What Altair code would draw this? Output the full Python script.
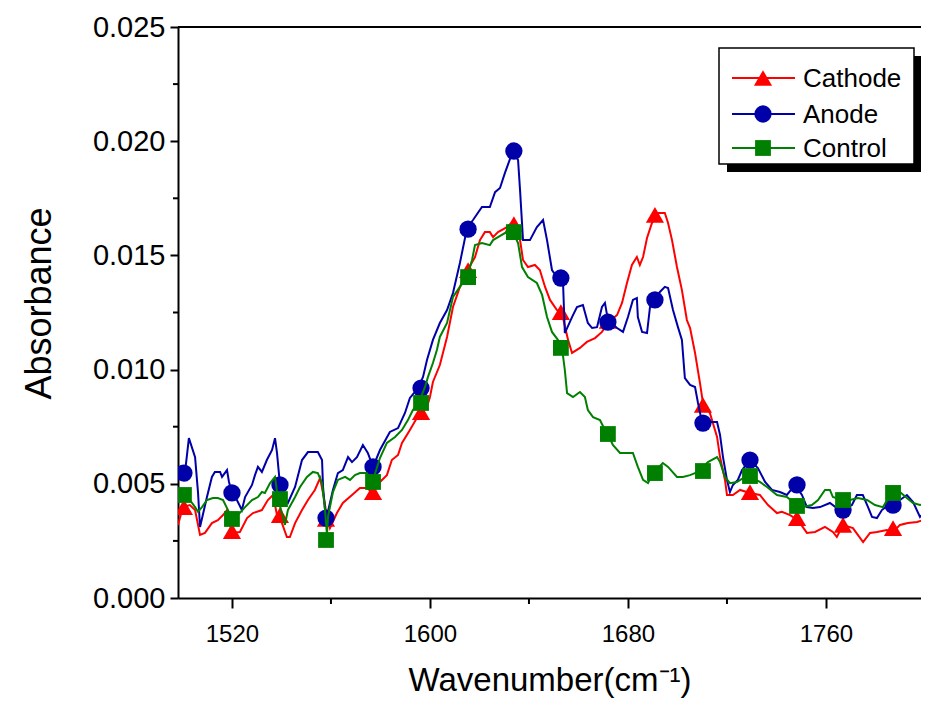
import altair as alt
import pandas as pd

# ---------------- data ----------------
series_names = ["Cathode", "Anode", "Control"]
series_colors = ["#FF0000", "#0000A8", "#008000"]
series_shapes = ["triangle-up", "circle", "square"]
series_sizes = [330, 300, 250]

x_ticks = [1520, 1600, 1680, 1760]
x_minor = [1560, 1640, 1720]
y_ticks = [0.000, 0.005, 0.010, 0.015, 0.020, 0.025]
y_minor = [0.0025, 0.0075, 0.0125, 0.0175, 0.0225]

# Cathode trace
cat_w = [1498.2, 1500.2, 1503.0, 1505.1, 1507.1, 1509.1, 1511.9, 1514.3, 1516.4, 1518.0,
         1520.0, 1523.2, 1526.1, 1528.5, 1532.1, 1534.5, 1536.6, 1538.2, 1540.2, 1542.2,
         1543.4, 1545.5, 1548.3, 1550.7, 1553.5, 1555.6, 1556.8, 1558.4, 1559.6, 1562.4,
         1564.8, 1568.5, 1571.7, 1574.5, 1577.0, 1579.8, 1582.6, 1584.6, 1587.1, 1588.7,
         1591.9, 1594.7, 1598.8, 1600.0, 1601.2, 1604.0, 1606.9, 1609.3, 1612.1, 1615.0,
         1618.2, 1620.2, 1622.2, 1624.2, 1625.5, 1627.5, 1631.1, 1633.9, 1636.4, 1637.6,
         1639.6, 1642.4, 1644.4, 1646.5, 1648.5, 1651.3, 1653.3, 1655.8, 1657.4, 1660.6,
         1663.4, 1666.7, 1669.5, 1671.9, 1675.6, 1677.6, 1679.6, 1681.6, 1683.6, 1684.8,
         1686.1, 1687.7, 1689.7, 1691.7, 1694.9, 1696.2, 1697.8, 1699.8, 1701.8, 1703.8,
         1705.1, 1707.1, 1709.1, 1710.3, 1713.1, 1716.0, 1717.2, 1719.2, 1720.0, 1722.4,
         1725.3, 1729.3, 1733.3, 1736.6, 1740.2, 1742.2, 1745.5, 1748.7, 1752.3, 1755.6,
         1759.6, 1762.8, 1764.4, 1766.9, 1770.9, 1775.0, 1777.8, 1780.6, 1784.6, 1787.1,
         1789.9, 1793.1, 1796.8, 1799.2, 1801.6]
cat_a = [0.00320, 0.00398, 0.00407, 0.00385, 0.00276, 0.00285, 0.00328, 0.00341, 0.00363, 0.00385,
         0.00285, 0.00289, 0.00350, 0.00372, 0.00385, 0.00429, 0.00451, 0.00363, 0.00328, 0.00267,
         0.00267, 0.00328, 0.00385, 0.00429, 0.00473, 0.00525, 0.00460, 0.00355, 0.00306, 0.00372,
         0.00416, 0.00451, 0.00482, 0.00482, 0.00460, 0.00508, 0.00538, 0.00604, 0.00626, 0.00679,
         0.00736, 0.00788, 0.00836, 0.00880, 0.00946, 0.01020, 0.01143, 0.01274, 0.01362, 0.01432,
         0.01493, 0.01567, 0.01602, 0.01602, 0.01580, 0.01602, 0.01624, 0.01651, 0.01567, 0.01480,
         0.01449, 0.01458, 0.01436, 0.01362, 0.01305, 0.01261, 0.01248, 0.01130, 0.01073, 0.01095,
         0.01121, 0.01138, 0.01165, 0.01204, 0.01239, 0.01292, 0.01379, 0.01458, 0.01493, 0.01458,
         0.01493, 0.01576, 0.01642, 0.01686, 0.01686, 0.01642, 0.01567, 0.01449, 0.01348, 0.01217,
         0.01182, 0.01073, 0.00941, 0.00854, 0.00810, 0.00705, 0.00617, 0.00517, 0.00451, 0.00451,
         0.00473, 0.00460, 0.00451, 0.00407, 0.00372, 0.00377, 0.00363, 0.00341, 0.00285, 0.00289,
         0.00311, 0.00289, 0.00267, 0.00320, 0.00306, 0.00245, 0.00285, 0.00289, 0.00298, 0.00289,
         0.00320, 0.00328, 0.00333, 0.00341, 0.00328]

# Anode trace
ano_w = [1498.2, 1501.0, 1502.6, 1505.1, 1506.3, 1507.1, 1509.9, 1511.9, 1513.1, 1515.2,
         1516.0, 1518.0, 1518.8, 1520.0, 1522.0, 1524.0, 1525.3, 1528.1, 1529.3, 1530.5,
         1532.1, 1534.1, 1536.2, 1537.4, 1538.2, 1539.4, 1540.2, 1542.6, 1545.5, 1548.3,
         1550.7, 1554.7, 1556.4, 1556.8, 1558.0, 1560.8, 1562.8, 1564.8, 1566.9, 1568.5,
         1570.5, 1572.9, 1574.9, 1577.0, 1579.8, 1583.8, 1587.1, 1589.9, 1591.9, 1595.2,
         1597.2, 1598.8, 1601.2, 1604.0, 1606.9, 1609.3, 1612.1, 1615.0, 1617.4, 1621.0,
         1624.2, 1626.3, 1628.3, 1630.3, 1633.5, 1635.6, 1636.4, 1637.6, 1640.4, 1643.2,
         1645.7, 1647.3, 1649.3, 1651.3, 1653.7, 1654.5, 1657.4, 1659.4, 1661.8, 1663.8,
         1665.5, 1667.5, 1669.5, 1670.7, 1671.9, 1675.6, 1678.0, 1680.0, 1682.0, 1683.6,
         1684.0, 1685.7, 1687.7, 1688.9, 1690.9, 1692.9, 1694.9, 1696.2, 1698.2, 1700.2,
         1701.8, 1703.0, 1705.1, 1707.1, 1708.3, 1709.9, 1713.1, 1716.0, 1717.2, 1718.4,
         1720.0, 1721.2, 1722.4, 1724.4, 1726.1, 1729.3, 1732.5, 1735.4, 1738.2, 1741.4,
         1744.2, 1747.5, 1750.3, 1752.3, 1754.7, 1757.6, 1761.6, 1764.4, 1766.9, 1770.5,
         1772.5, 1774.9, 1777.0, 1778.6, 1780.6, 1782.6, 1785.1, 1787.1, 1789.9, 1792.7,
         1795.2, 1798.0, 1800.0, 1801.6]
ano_a = [0.00517, 0.00547, 0.00700, 0.00617, 0.00460, 0.00311, 0.00442, 0.00530, 0.00552, 0.00552,
         0.00530, 0.00560, 0.00508, 0.00460, 0.00429, 0.00385, 0.00442, 0.00495, 0.00538, 0.00574,
         0.00552, 0.00604, 0.00648, 0.00700, 0.00635, 0.00495, 0.00442, 0.00416, 0.00486, 0.00604,
         0.00639, 0.00639, 0.00604, 0.00486, 0.00341, 0.00473, 0.00547, 0.00560, 0.00617, 0.00595,
         0.00617, 0.00670, 0.00635, 0.00574, 0.00648, 0.00727, 0.00744, 0.00810, 0.00876, 0.00919,
         0.00968, 0.01042, 0.01130, 0.01204, 0.01261, 0.01335, 0.01467, 0.01620, 0.01655, 0.01712,
         0.01712, 0.01777, 0.01795, 0.01861, 0.01957, 0.01918, 0.01786, 0.01567, 0.01567, 0.01624,
         0.01655, 0.01567, 0.01436, 0.01405, 0.01401, 0.01160, 0.01230, 0.01274, 0.01283, 0.01204,
         0.01182, 0.01186, 0.01274, 0.01292, 0.01217, 0.01182, 0.01165, 0.01230, 0.01305, 0.01313,
         0.01230, 0.01165, 0.01160, 0.01274, 0.01305, 0.01340, 0.01362, 0.01357, 0.01261, 0.01186,
         0.01130, 0.00963, 0.00933, 0.00924, 0.00854, 0.00771, 0.00771, 0.00771, 0.00714, 0.00617,
         0.00517, 0.00464, 0.00495, 0.00517, 0.00560, 0.00604, 0.00569, 0.00508, 0.00473, 0.00464,
         0.00451, 0.00495, 0.00451, 0.00398, 0.00394, 0.00398, 0.00416, 0.00394, 0.00385, 0.00407,
         0.00451, 0.00451, 0.00398, 0.00355, 0.00350, 0.00385, 0.00407, 0.00407, 0.00429, 0.00451,
         0.00420, 0.00355, 0.00377, 0.00394]

# Control trace
con_w = [1498.2, 1500.2, 1503.0, 1505.1, 1506.3, 1507.9, 1509.9, 1512.3, 1514.3, 1516.4,
         1518.4, 1520.0, 1522.4, 1525.3, 1528.1, 1530.5, 1532.1, 1533.3, 1535.4, 1537.4,
         1538.6, 1540.2, 1541.4, 1542.6, 1545.5, 1547.5, 1550.3, 1552.7, 1554.7, 1556.4,
         1557.6, 1558.4, 1558.8, 1560.8, 1562.8, 1565.7, 1567.7, 1569.7, 1571.7, 1574.5,
         1576.6, 1579.8, 1582.6, 1585.9, 1588.7, 1591.1, 1593.1, 1595.6, 1598.0, 1599.2,
         1601.2, 1602.8, 1604.0, 1606.9, 1609.3, 1612.1, 1615.0, 1617.0, 1618.2, 1621.0,
         1624.2, 1625.5, 1627.5, 1630.3, 1633.5, 1635.6, 1637.2, 1639.6, 1643.2, 1645.3,
         1647.3, 1649.3, 1651.7, 1653.3, 1654.5, 1655.4, 1657.8, 1660.6, 1662.6, 1663.8,
         1665.9, 1668.7, 1670.7, 1671.9, 1673.9, 1676.8, 1682.0, 1684.0, 1686.1, 1688.1,
         1690.1, 1694.1, 1696.2, 1699.8, 1702.2, 1705.1, 1708.3, 1712.3, 1716.0, 1717.2,
         1719.2, 1721.2, 1724.0, 1726.5, 1729.3, 1733.3, 1736.2, 1740.2, 1744.2, 1748.3,
         1750.7, 1754.3, 1756.8, 1759.6, 1761.6, 1762.8, 1766.5, 1769.7, 1772.9, 1776.6,
         1779.8, 1783.0, 1786.7, 1789.9, 1792.7, 1795.2, 1798.0, 1801.6]
con_a = [0.00442, 0.00442, 0.00429, 0.00398, 0.00377, 0.00398, 0.00429, 0.00438, 0.00438, 0.00429,
         0.00385, 0.00346, 0.00363, 0.00398, 0.00429, 0.00442, 0.00464, 0.00460, 0.00503, 0.00530,
         0.00433, 0.00372, 0.00320, 0.00385, 0.00442, 0.00486, 0.00530, 0.00552, 0.00547, 0.00503,
         0.00385, 0.00276, 0.00355, 0.00464, 0.00517, 0.00530, 0.00517, 0.00538, 0.00547, 0.00547,
         0.00503, 0.00613, 0.00679, 0.00705, 0.00736, 0.00779, 0.00823, 0.00858, 0.00924, 0.00968,
         0.01029, 0.01086, 0.01143, 0.01204, 0.01318, 0.01362, 0.01405, 0.01480, 0.01545, 0.01554,
         0.01545, 0.01567, 0.01580, 0.01598, 0.01602, 0.01554, 0.01449, 0.01405, 0.01379, 0.01327,
         0.01230, 0.01165, 0.01130, 0.01099, 0.00998, 0.00897, 0.00880, 0.00902, 0.00880, 0.00823,
         0.00792, 0.00779, 0.00736, 0.00718, 0.00670, 0.00635, 0.00635, 0.00574, 0.00517, 0.00503,
         0.00547, 0.00591, 0.00574, 0.00530, 0.00530, 0.00538, 0.00552, 0.00595, 0.00617, 0.00595,
         0.00530, 0.00503, 0.00508, 0.00525, 0.00530, 0.00508, 0.00486, 0.00451, 0.00442, 0.00407,
         0.00398, 0.00407, 0.00429, 0.00473, 0.00473, 0.00442, 0.00429, 0.00429, 0.00438, 0.00429,
         0.00407, 0.00398, 0.00460, 0.00464, 0.00438, 0.00416, 0.00407, 0.00416]

# Marker positions (every 10th point) and values
mark_w = [1500.6, 1520.0, 1539.4, 1558.0, 1577.0, 1596.4, 1615.4, 1633.9,
          1652.9, 1671.9, 1690.9, 1710.3, 1729.3, 1748.3, 1766.9, 1787.1]
cat_m = [0.00398, 0.00293, 0.00363, 0.00346, 0.00464, 0.00814, 0.01436, 0.01637,
         0.01252, 0.01213, 0.01677, 0.00845, 0.00464, 0.00350, 0.00320, 0.00306]
ano_m = [0.00547, 0.00460, 0.00495, 0.00350, 0.00574, 0.00919, 0.01615, 0.01957,
         0.01401, 0.01208, 0.01305, 0.00766, 0.00604, 0.00495, 0.00385, 0.00407]
con_m = [0.00451, 0.00346, 0.00433, 0.00254, 0.00508, 0.00854, 0.01405, 0.01602,
         0.01095, 0.00718, 0.00547, 0.00556, 0.00534, 0.00403, 0.00429, 0.00460]

# ---------------- chart ----------------
FONT = "Liberation Sans"
W, H = 743, 571
x_scale = alt.Scale(domain=[1498.2, 1798.4], nice=False, zero=False)
y_scale = alt.Scale(domain=[0, 0.025], nice=False, zero=False)

x_axis = alt.Axis(values=x_ticks, format="d", title="Wavenumber(cm\u207b\u00b9)",
                  labelFont=FONT, labelFontSize=24, labelColor="black", labelPadding=14,
                  tickSize=10, tickWidth=2, tickColor="black",
                  domainWidth=2, domainColor="black", grid=False,
                  titleFont=FONT, titleFontSize=33, titleFontWeight="normal", titleColor="black",
                  titleY=99, titleBaseline="bottom")
y_axis = alt.Axis(values=y_ticks, format=".3f", title="Absorbance",
                  labelFont=FONT, labelFontSize=29, labelColor="black", labelPadding=5,
                  tickSize=8, tickWidth=2, tickColor="black",
                  domainWidth=2, domainColor="black", grid=False,
                  titleFont=FONT, titleFontSize=36, titleFontWeight="normal", titleColor="black",
                  titleX=-139, titleY=276, titleAngle=270, titleAlign="center",
                  titleBaseline="middle")

X = lambda: alt.X("w:Q", scale=x_scale, axis=x_axis)
Y = lambda: alt.Y("a:Q", scale=y_scale, axis=y_axis)

traces = [(cat_w, cat_a, cat_m), (ano_w, ano_a, ano_m), (con_w, con_a, con_m)]
layers = []
for (ws, vs, ms), name, col, shp, sz in zip(traces, series_names, series_colors,
                                             series_shapes, series_sizes):
    dfl = pd.DataFrame({"w": ws, "a": vs, "s": name})
    dfm = pd.DataFrame({"w": mark_w, "a": ms, "s": name})
    line = alt.Chart(dfl).mark_line(color=col, strokeWidth=2, clip=True).encode(x=X(), y=Y())
    pts = alt.Chart(dfm).mark_point(shape=shp, filled=True, opacity=1, color=col,
                                    size=sz, clip=True).encode(x=X(), y=Y())
    layers += [line, pts]

# minor ticks and top frame line
minor_x = alt.Chart(pd.DataFrame({"w": x_minor})).mark_rule(color="black", strokeWidth=2).encode(
    x=X(), y=alt.value(H), y2=alt.value(H + 6))
minor_y = alt.Chart(pd.DataFrame({"a": y_minor})).mark_rule(color="black", strokeWidth=2).encode(
    y=Y(), x=alt.value(-5), x2=alt.value(0))
one = pd.DataFrame({"k": [0]})
top_border = alt.Chart(one).mark_rule(color="black", strokeWidth=2).encode(
    x=alt.value(0), x2=alt.value(W), y=alt.value(0))

# legend box with drop shadow
shadow = alt.Chart(one).mark_rect(color="black").encode(
    x=alt.value(549), x2=alt.value(744), y=alt.value(29), y2=alt.value(145))
box = alt.Chart(one).mark_rect(fill="white", stroke="black", strokeWidth=1.5).encode(
    x=alt.value(541), x2=alt.value(736), y=alt.value(21), y2=alt.value(137))
leg = [shadow, box]
for name, col, shp, sz, ry in zip(series_names, series_colors, series_shapes, series_sizes,
                                  [51, 87, 121]):
    d = pd.DataFrame({"label": [name]})
    leg.append(alt.Chart(d).mark_rule(color=col, strokeWidth=2).encode(
        x=alt.value(554), x2=alt.value(617), y=alt.value(ry)))
    leg.append(alt.Chart(d).mark_point(shape=shp, filled=True, opacity=1, color=col, size=sz).encode(
        x=alt.value(585), y=alt.value(ry)))
    leg.append(alt.Chart(d).mark_text(font=FONT, fontSize=26, color="black", align="left",
                                      baseline="middle").encode(
        x=alt.value(625), y=alt.value(ry + 1), text="label:N"))

chart = alt.layer(*layers, minor_x, minor_y, top_border, *leg).properties(
    width=W, height=H,
    autosize=alt.AutoSizeParams(type="none"),
    padding={"left": 170, "top": 19, "right": 0, "bottom": 100},
    background="white",
).configure_view(stroke=None)

chart.save("out.html", embed_options={"renderer": "svg", "actions": False})
